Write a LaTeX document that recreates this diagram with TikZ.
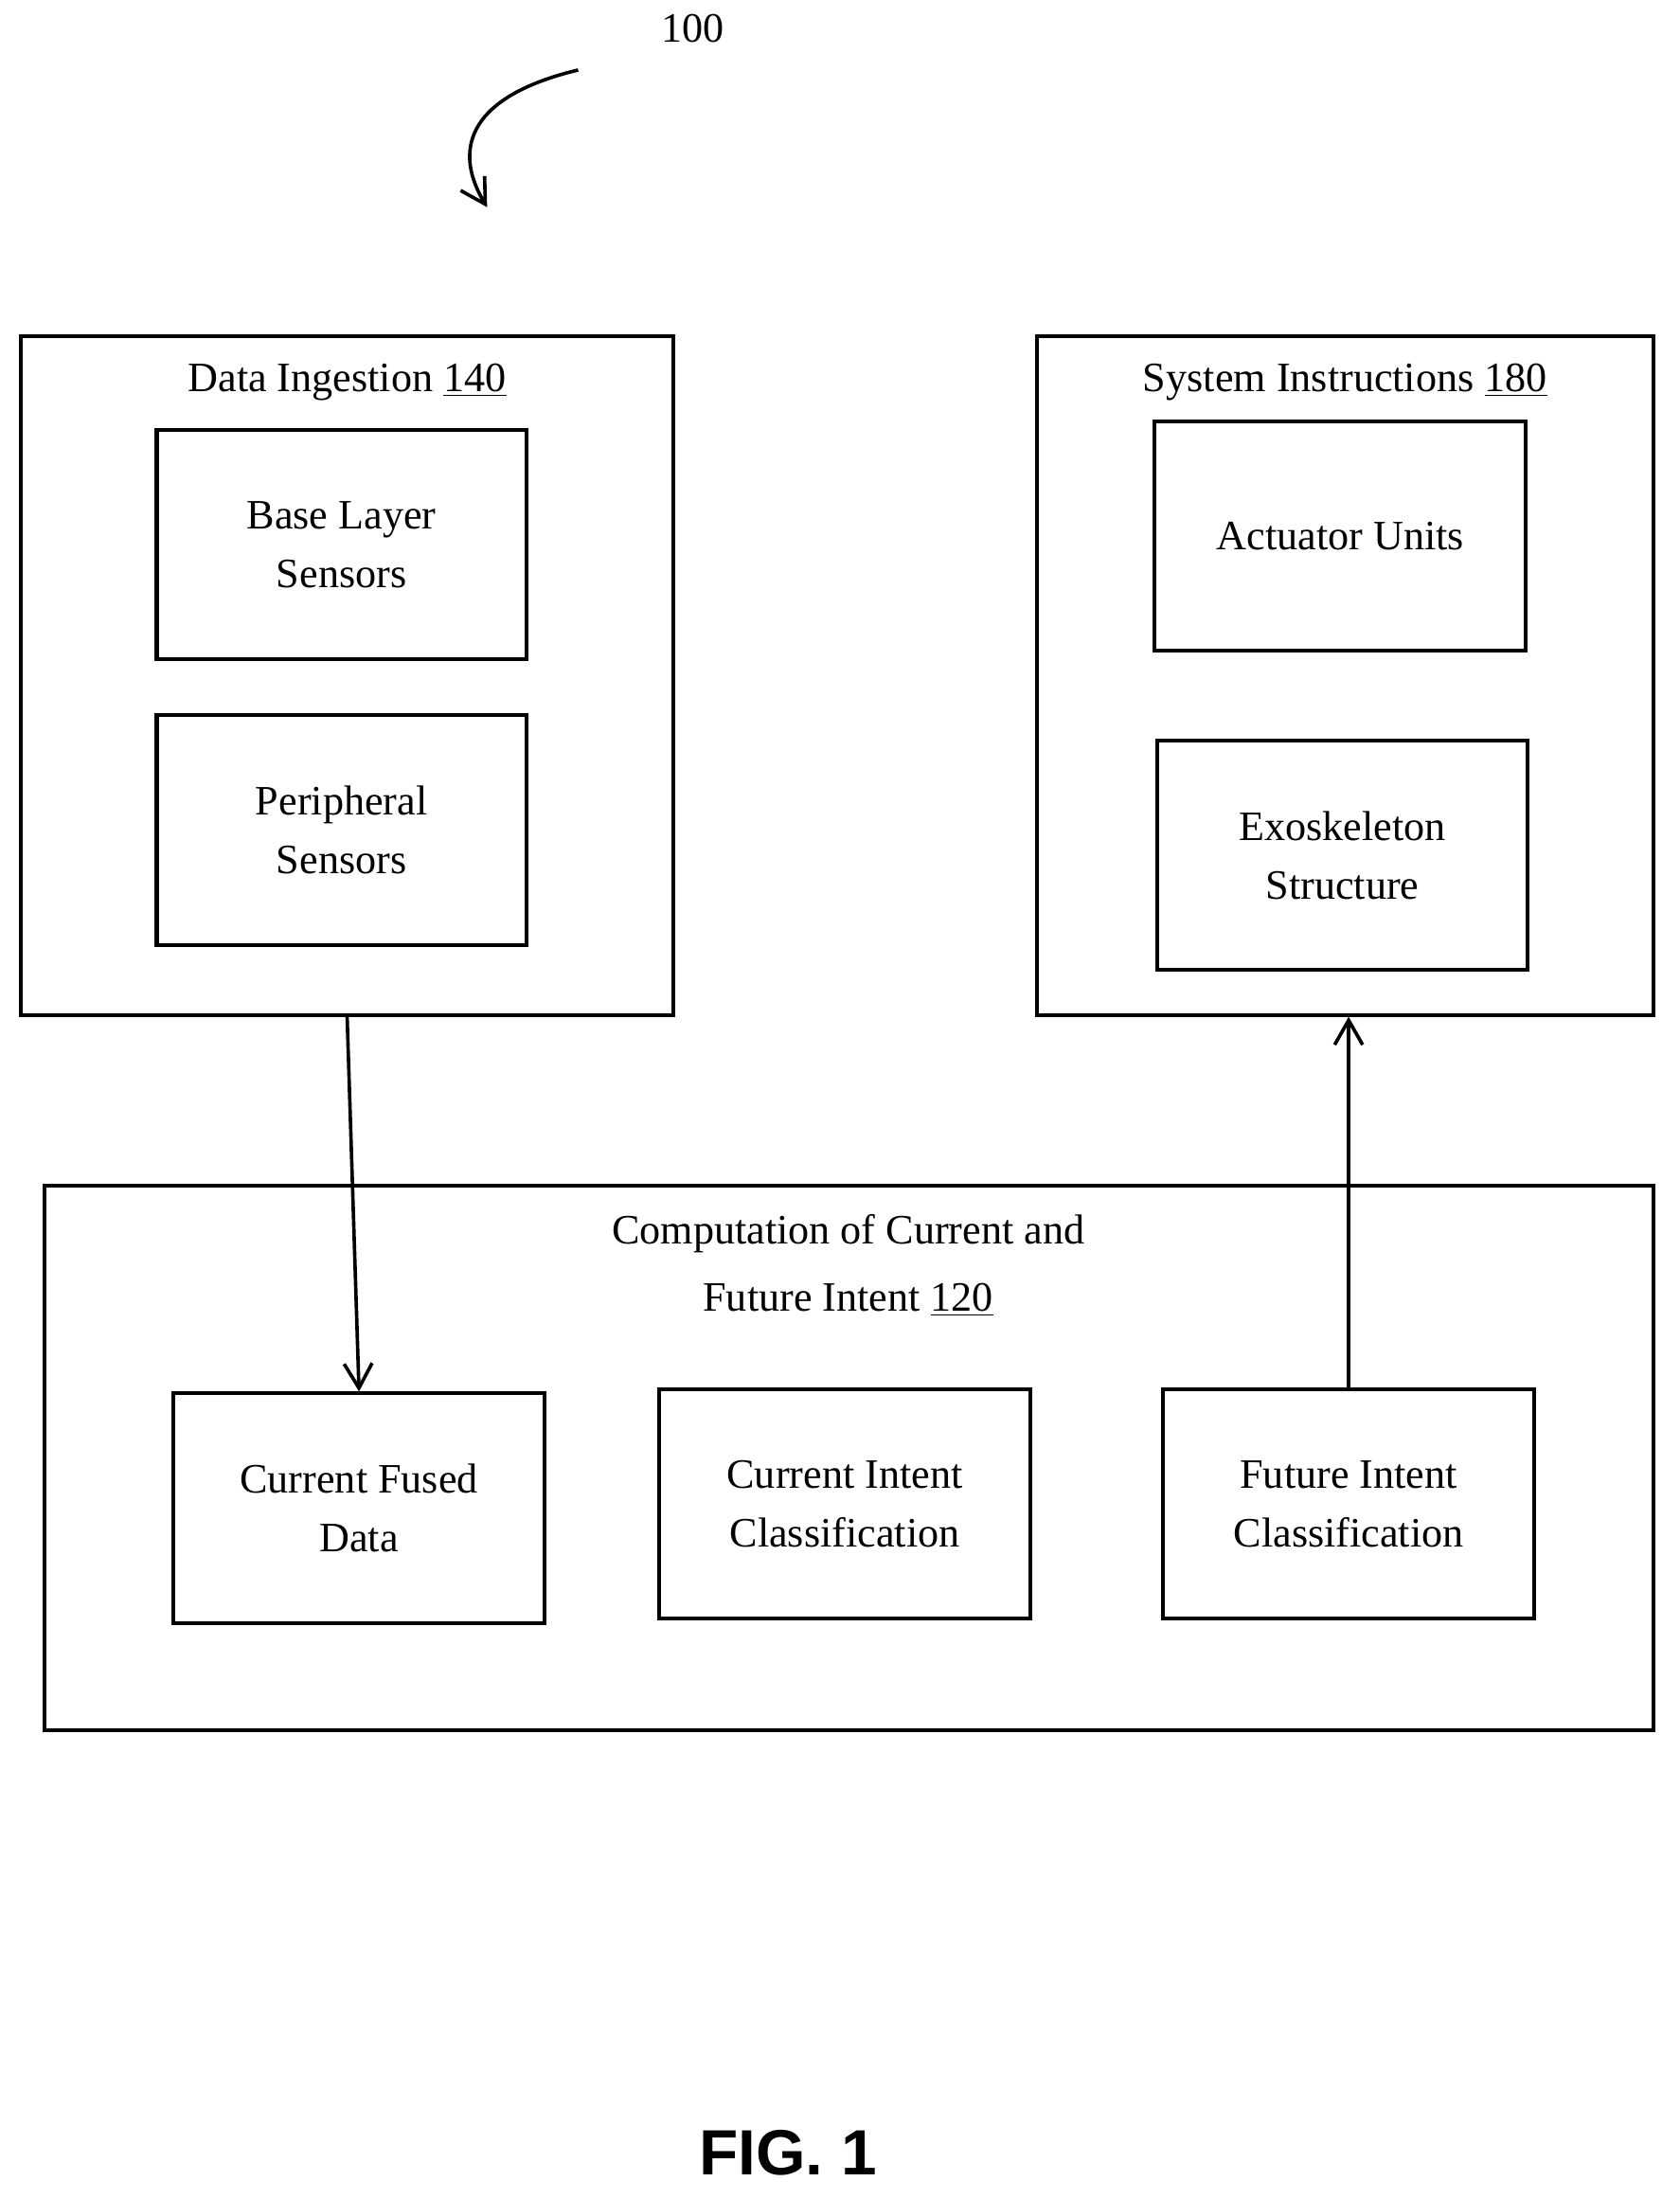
\documentclass[tikz,border=0pt]{standalone}
\usepackage{fontspec}
\setmainfont{Liberation Serif}
\newfontfamily\figfont{Liberation Sans}
\usetikzlibrary{arrows.meta}
\tikzset{
  box/.style={draw, line width=1.6pt, minimum width=5.3cm, minimum height=3.28cm, align=center, font=\fontsize{17}{24}\selectfont},
  frame/.style={draw, line width=1.6pt},
  title/.style={font=\fontsize{17}{24}\selectfont, align=center},
  link/.style={->, line width=1.4pt, >={Straight Barb[length=3.5mm,width=4mm]}}
}
\begin{document}
\begin{tikzpicture}
    \useasboundingbox (0,0) rectangle (24,-31.42);
    % reference numeral
    \node[title] (ref) at (9.9,-0.4) {100};
    \draw[link] (8.26,-1.0) .. controls (6.6,-1.4) and (6.5,-2.2) .. (6.96,-2.96);

    % Data ingestion group
    \node[frame, minimum width=9.32cm, minimum height=9.7cm] (ingest) at (4.96,-9.65) {};
    \node[title] (ingesttitle) at (4.96,-5.46) {Data Ingestion \underline{140}};
    \node[box, minimum width=5.28cm] (base) at (4.88,-7.78) {Base Layer\\Sensors};
    \node[box, minimum width=5.28cm] (periph) at (4.88,-11.86) {Peripheral\\Sensors};

    % System instructions group
    \node[frame, minimum width=8.8cm, minimum height=9.7cm] (sys) at (19.22,-9.65) {};
    \node[title] (systitle) at (19.22,-5.46) {System Instructions \underline{180}};
    \node[box] (act) at (19.15,-7.66) {Actuator Units};
    \node[box] (exo) at (19.18,-12.22) {Exoskeleton\\Structure};

    % Computation group
    \node[frame, minimum width=22.98cm, minimum height=7.78cm] (comp) at (12.13,-20.83) {};
    \node[title, font=\fontsize{17}{27.6}\selectfont] (comptitle) at (12.12,-18.08) {Computation of Current and\\Future Intent \underline{120}};
    \node[box] (cfd) at (5.13,-21.55) {Current Fused\\Data};
    \node[box] (cic) at (12.07,-21.49) {Current Intent\\Classification};
    \node[box] (fic) at (19.27,-21.49) {Future Intent\\Classification};

    % connectors
    \draw[link] (ingest.south) -- (cfd.north);
    \draw[link] (fic.north) -- (fic.north |- sys.south);

    \node[font=\figfont\bfseries\fontsize{26}{30}\selectfont] (fig) at (11.26,-30.76) {FIG. 1};
\end{tikzpicture}
\end{document}
